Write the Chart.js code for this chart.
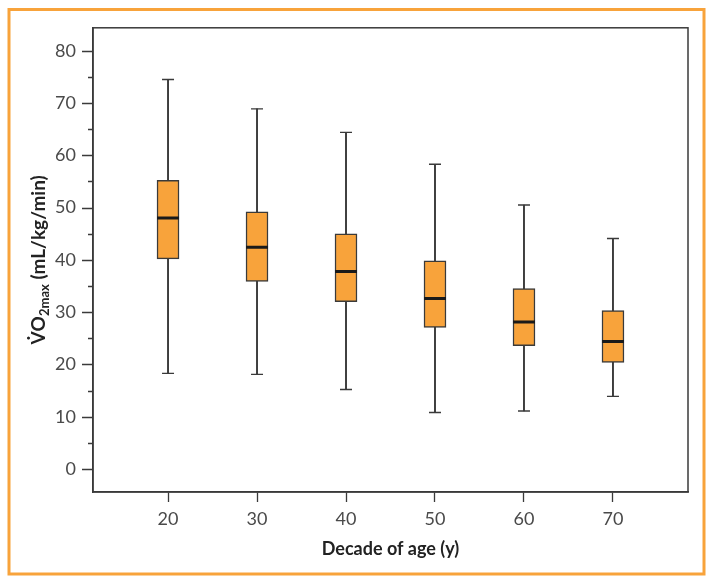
<!DOCTYPE html>
<html>
<head>
<meta charset="utf-8">
<script src="https://cdn.jsdelivr.net/npm/chart.js@4"></script>
<style>
  html, body { margin: 0; padding: 0; background: #fff; }
  #c { display: block; }
</style>
</head>
<body>
<canvas id="c" width="714" height="584"></canvas>
<script>
// decade of age (x positions)
const decades = [20, 30, 40, 50, 60, 70];
// VO2max box plot values
const whiskerLow = [18.3, 18.1, 15.2, 10.8, 11.1, 13.9];
const q1 = [40.2, 35.9, 32.0, 27.1, 23.6, 20.4];
const median = [48.0, 42.4, 37.8, 32.6, 28.1, 24.4];
const q3 = [55.2, 49.2, 45.0, 39.8, 34.5, 30.3];
const whiskerHigh = [74.5, 68.9, 64.4, 58.3, 50.5, 44.1];
const yTicks = [0, 5, 10, 15, 20, 25, 30, 35, 40, 45, 50, 55, 60, 65, 70, 75, 80];
const xTicks = [20, 30, 40, 50, 60, 70];

const ORANGE = '#f8a33b';
const DARK = '#3a3a3a';
const LABEL = '#4a4a4a';

// frame around plot, minor/major y ticks, y title with subscript, outer border
const decor = {
  id: 'decor',
  afterDraw(chart) {
    const { ctx, chartArea: a, scales: { y } } = chart;
    ctx.save();
    ctx.strokeStyle = DARK;
    ctx.lineWidth = 1.5;
    ctx.strokeRect(a.left, a.top, a.right - a.left, a.bottom - a.top);

    ctx.beginPath();
    yTicks.forEach(v => {
      const py = Math.round(y.getPixelForValue(v)) + 0.5;
      const len = v % 10 === 0 ? 11 : 5;
      ctx.moveTo(a.left - len, py);
      ctx.lineTo(a.left, py);
    });
    ctx.lineWidth = 1.3;
    ctx.stroke();

    // y axis title
    const cy = (a.top + a.bottom) / 2;
    ctx.translate(45, cy);
    ctx.rotate(-Math.PI / 2);
    ctx.fillStyle = '#222';
    ctx.textBaseline = 'alphabetic';
    const big = 'bold 19px Lato, "Open Sans", sans-serif';
    const small = 'bold 13px Lato, "Open Sans", sans-serif';
    const p1 = 'V\u0307O', p2 = '2max', p3 = ' (mL/kg/min)';
    ctx.font = big; const w1 = ctx.measureText(p1).width, w3 = ctx.measureText(p3).width;
    ctx.font = small; const w2 = ctx.measureText(p2).width;
    let x = -(w1 + w2 + w3) / 2;
    ctx.font = big; ctx.fillText(p1, x, 0); x += w1;
    ctx.font = small; ctx.fillText(p2, x, 4); x += w2;
    ctx.font = big; ctx.fillText(p3, x, 0);
    ctx.restore();

    ctx.save();
    ctx.strokeStyle = ORANGE;
    ctx.lineWidth = 3;
    ctx.strokeRect(9, 9.5, 695, 564.5);
    ctx.restore();
  }
};

new Chart(document.getElementById('c'), {
  type: 'bar',
  data: {
    datasets: [
      {
        type: 'scatter',
        data: decades.map((d, i) => ({ x: d, y: median[i] })),
        pointStyle: 'line', pointRadius: 11, pointHoverRadius: 11,
        borderColor: '#1a1a1a', borderWidth: 3, order: 0
      },
      {
        type: 'scatter',
        data: decades.flatMap((d, i) => [{ x: d, y: whiskerLow[i] }, { x: d, y: whiskerHigh[i] }]),
        pointStyle: 'line', pointRadius: 6, pointHoverRadius: 6,
        borderColor: DARK, borderWidth: 1.4, order: 0
      },
      {
        data: decades.map((d, i) => ({ x: d, y: [q1[i], q3[i]] })),
        backgroundColor: ORANGE, borderColor: DARK, borderWidth: 1.5,
        borderSkipped: false, barThickness: 22, grouped: false, order: 1
      },
      {
        data: decades.map((d, i) => ({ x: d, y: [whiskerLow[i], whiskerHigh[i]] })),
        backgroundColor: '#333', borderWidth: 0,
        barThickness: 1.2, grouped: false, order: 2
      }
    ]
  },
  options: {
    responsive: false,
    animation: false,
    events: [],
    layout: { padding: { top: 25, right: 26, left: 0, bottom: 24 } },
    plugins: { legend: { display: false }, tooltip: { enabled: false } },
    scales: {
      x: {
        type: 'linear',
        offset: false,
        min: 11.57, max: 78.43,
        afterBuildTicks: s => { s.ticks = xTicks.map(v => ({ value: v })); },
        afterFit: s => { s.height = 68; },
        grid: { display: true, offset: false, drawOnChartArea: false, drawTicks: true, tickLength: 10, tickColor: DARK, tickWidth: 1.3 },
        border: { display: true, color: DARK, width: 1.5 },
        ticks: { color: LABEL, padding: 6, font: { family: 'Lato, "Open Sans", sans-serif', size: 18 } },
        title: {
          display: true, text: 'Decade of age (y)', color: '#222',
          font: { family: 'Lato, "Open Sans", sans-serif', size: 18, weight: 'bold' },
          padding: { top: 0, bottom: 0 }
        }
      },
      y: {
        min: -4.4, max: 84.4,
        afterBuildTicks: s => { s.ticks = yTicks.map(v => ({ value: v })); },
        afterFit: s => { s.width = 93; },
        grid: { display: false, drawTicks: false },
        border: { display: true, color: DARK, width: 1.5 },
        ticks: {
          color: LABEL, padding: 17,
          font: { family: 'Lato, "Open Sans", sans-serif', size: 18 },
          callback: v => (v % 10 === 0 ? v : '')
        }
      }
    }
  },
  plugins: [decor]
});
</script>
</body>
</html>
